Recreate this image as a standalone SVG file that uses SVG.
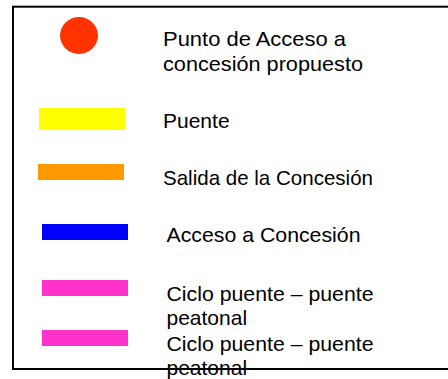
<svg xmlns="http://www.w3.org/2000/svg" width="448" height="379" viewBox="0 0 448 379">
<style>
text{font-family:"Liberation Sans",Arial,sans-serif;font-size:21px;fill:#000}
.frame{fill:#fff;stroke:#000;stroke-width:2}
</style>
<rect x="0" y="0" width="448" height="379" fill="#fff"/>
<rect class="frame" x="13" y="6.7" width="460" height="362.3"/>
<g id="punto-acceso">
<ellipse cx="79" cy="35.5" rx="19" ry="18.5" fill="#FF3300"/>
<text x="163" y="45.5" textLength="183" lengthAdjust="spacingAndGlyphs">Punto de Acceso a</text>
<text x="163" y="71" textLength="200" lengthAdjust="spacingAndGlyphs">concesión propuesto</text>
</g>
<g id="puente">
<rect x="39" y="108" width="86" height="22" fill="#FFFF00"/>
<text x="163" y="127.5">Puente</text>
</g>
<g id="salida">
<rect x="38" y="164" width="86" height="16" fill="#FF9900"/>
<text x="163" y="185" textLength="210" lengthAdjust="spacingAndGlyphs">Salida de la Concesión</text>
</g>
<g id="acceso">
<rect x="42" y="224" width="86" height="16" fill="#0000FF"/>
<text x="166.5" y="242" textLength="194" lengthAdjust="spacingAndGlyphs">Acceso a Concesión</text>
</g>
<g id="ciclo-puente-1">
<rect x="42" y="280" width="86" height="16" fill="#FF33CC"/>
<text x="166.5" y="300.5" textLength="207" lengthAdjust="spacingAndGlyphs">Ciclo puente – puente</text>
<text x="166.5" y="325">peatonal</text>
</g>
<g id="ciclo-puente-2">
<rect x="42" y="330" width="86" height="16" fill="#FF33CC"/>
<text x="166.5" y="350.5" textLength="207" lengthAdjust="spacingAndGlyphs">Ciclo puente – puente</text>
<text x="166.5" y="375">peatonal</text>
</g>
</svg>
